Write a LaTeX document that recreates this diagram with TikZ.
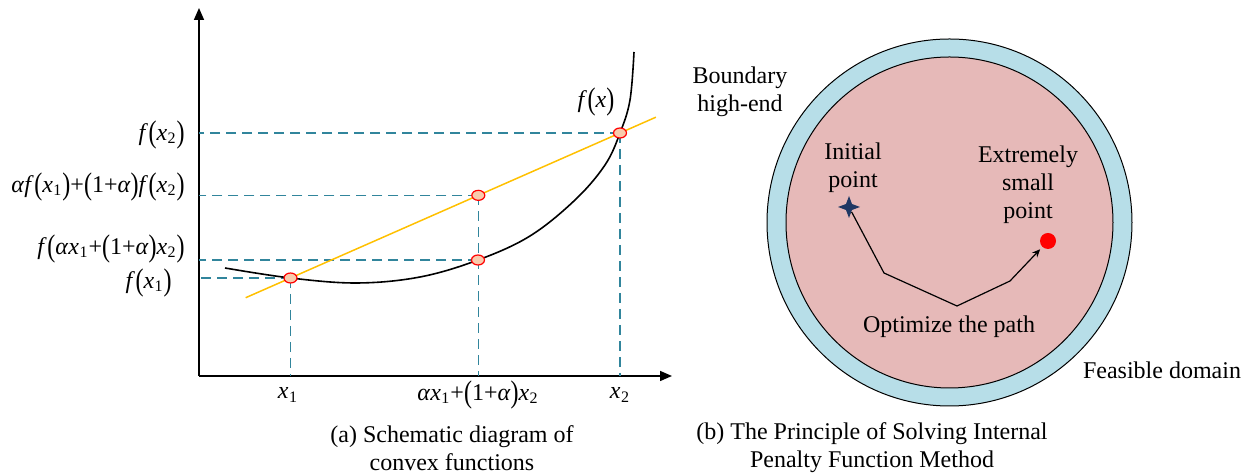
\documentclass[tikz,border=0pt]{standalone}
\usepackage{fontspec}
\setmainfont{Liberation Serif}
\usetikzlibrary{arrows.meta,positioning,calc,shapes.geometric}
\definecolor{guidecol}{HTML}{31859C}
\definecolor{chordcol}{HTML}{FFC000}
\definecolor{markfill}{HTML}{F8CBAD}
\definecolor{ringcol}{HTML}{B7DEE8}
\definecolor{domaincol}{HTML}{E6B9B8}
\definecolor{startcol}{HTML}{1F3864}
% italic variables set in the text font, with tall thin parentheses
\newcommand{\vf}{\textit{f}\kern0.3pt}
\newcommand{\va}{\textit{α}}
\newcommand{\vx}[1]{\textit{x}\kern0.2pt\textsubscript{#1}}
\newcommand{\lp}{\raisebox{-0.1em}{\scalebox{1}[1.3]{(}}}
\newcommand{\rp}{\raisebox{-0.1em}{\scalebox{1}[1.3]{)}}}
\newcommand{\pl}{+}

\begin{document}
\begin{tikzpicture}[x=0.5pt,y=-0.5pt,font=\fontsize{12}{14}\selectfont,
  axis/.style={line width=0.8pt,-{Triangle[length=6pt,width=5pt]}},
  guide/.style={guidecol,line width=0.7pt,dash pattern=on 5pt off 3pt},
  marker/.style={ellipse,draw=red,fill=markfill,line width=0.6pt,
    minimum width=6.5pt,minimum height=5pt,inner sep=0pt},
  txt/.style={inner sep=0pt,align=center}]
  \useasboundingbox (0,0) rectangle (1250,474);

  % (a) convex function
  \coordinate (o) at (199,376);
  \coordinate (ytip) at (199,8);
  \coordinate (xtip) at (672,376);
  \draw[axis] (o) -- (ytip);
  \draw[axis] (o) -- (xtip);

  \coordinate (p1) at (290.5,278);
  \coordinate (p2) at (478,260);
  \coordinate (p3) at (620,133);
  \coordinate (q) at ($(p1)!0.57!(p3)$);
  \coordinate (cha) at ($(p1)!-0.136!(p3)$);
  \coordinate (chb) at ($(p1)!1.109!(p3)$);

  \draw[guide] (p3) -- (p3 -| o);
  \draw[guide] (q) -- (q -| o);
  \draw[guide] (p2) -- (p2 -| o);
  \draw[guide] (p1) -- (p1 -| o);
  \draw[guide] (p1) -- (p1 |- o);
  \draw[guide] (q) -- (q |- o);
  \draw[guide] (p3) -- (p3 |- o);

  \draw[line width=0.8pt] plot[smooth,tension=0.6] coordinates
    {(225,268) (290.5,278) (357,283) (420,277) (478,260) (530,236)
     (575,200) (605,165) (620,133) (630,100) (634,52)};
  \draw[chordcol,line width=0.75pt] (cha) -- (chb);

  \foreach \p in {p1,p2,p3,q}
    \node[marker] at (\p) {};

  \node[txt] (fx) at (596,102) {\vf\lp\textit{x}\rp};
  \node[txt,anchor=east] (lfx2) at (185,135) {\vf\lp\vx2\rp};
  \node[txt,anchor=east] (lchord) at (185,187)
    {\va\vf\lp\vx1\rp\pl\lp1\pl\va\rp\vf\lp\vx2\rp};
  \node[txt,anchor=east] (lmid) at (185,249)
    {\vf\lp\va\vx1\pl\lp1\pl\va\rp\vx2\rp};
  \node[txt,anchor=east] (lfx1) at (172,283) {\vf\lp\vx1\rp};

  \node[txt] (tx1) at (288,395) {\vx1};
  \node[txt] (tmid) at (478,395) {\va\vx1\pl\lp1\pl\va\rp\vx2};
  \node[txt] (tx2) at (620,395) {\vx2};

  \node[txt] (capa) at (452,448) {(a) Schematic diagram of\\convex functions};

  % (b) interior penalty method
  \node[ellipse,draw,line width=0.5pt,fill=ringcol,minimum width=182.5pt,
    minimum height=183.5pt] (ring) at (949.5,222.5) {};
  \node[ellipse,draw,line width=0.5pt,fill=domaincol,minimum width=163.5pt,
    minimum height=165.5pt] (domain) at (949.5,222.5) {};

  \coordinate (b1) at (884,273);
  \coordinate (b2) at (957,306);
  \coordinate (b3) at (1010,281);
  \node[star,star points=4,star point ratio=2.6,fill=startcol,
    minimum size=11pt,inner sep=0pt] (start) at (849,207) {};
  \node[circle,fill=red,minimum size=8pt,inner sep=0pt] (goal) at (1048,241) {};
  \draw[line width=0.6pt,-{Stealth[length=4pt,width=3.5pt]},shorten >=1.5pt]
    (start) -- (b1) -- (b2) -- (b3) -- (goal);

  \node[txt] (tinit) at (853,168) {Initial\\point};
  \node[txt] (tgoal) at (1028,185) {Extremely\\small\\point};
  \node[txt] (tpath) at (949,327) {Optimize the path};
  \node[txt] (tbound) at (740,92) {Boundary\\high-end};
  \node[txt] (tfeas) at (1162,370) {Feasible domain};
  \node[txt] (capb) at (872,448) {(b) The Principle of Solving Internal\\Penalty Function Method};
\end{tikzpicture}
\end{document}
